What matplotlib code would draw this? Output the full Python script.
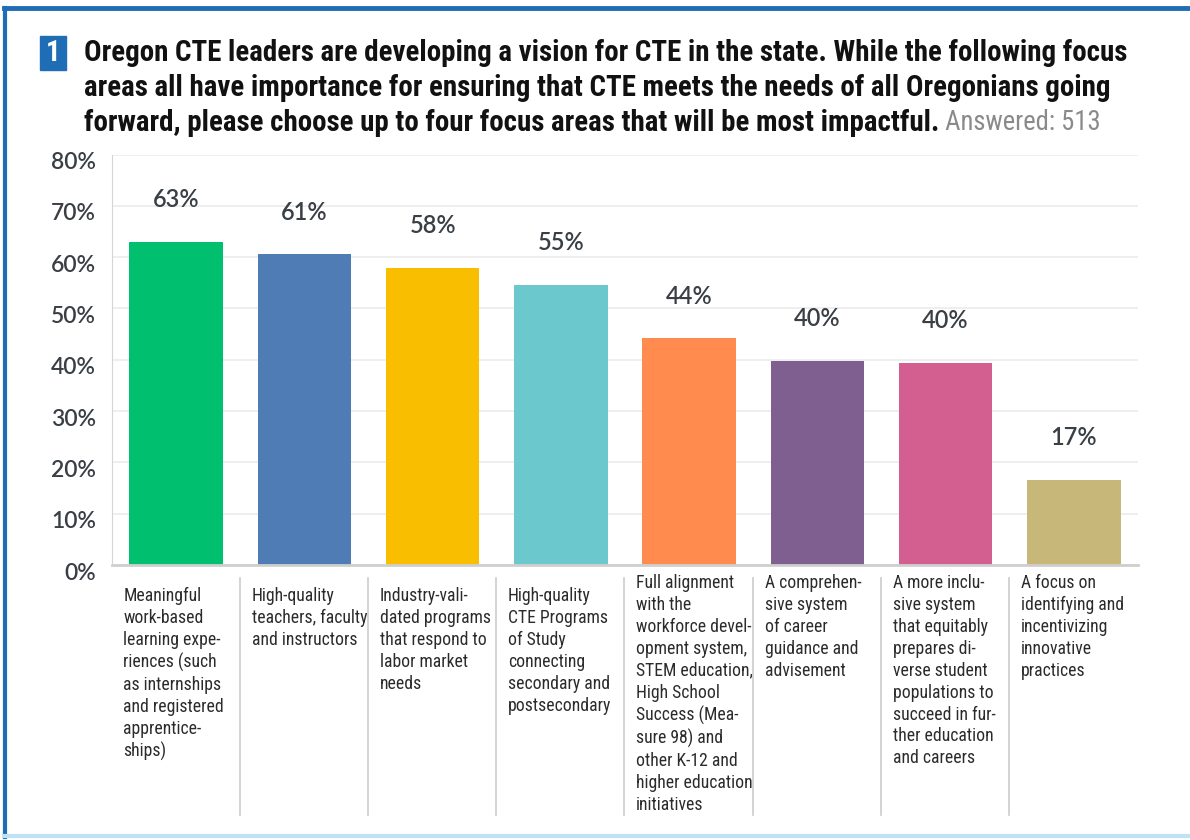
import matplotlib
matplotlib.use("Agg")
import matplotlib.pyplot as plt
from matplotlib.patches import Rectangle
from matplotlib.lines import Line2D
from matplotlib import font_manager as fm

categories = [
    "Meaningful\nwork-based\nlearning expe-\nriences (such\nas internships\nand registered\napprentice-\nships)",
    "High-quality\nteachers, faculty\nand instructors",
    "Industry-vali-\ndated programs\nthat respond to\nlabor market\nneeds",
    "High-quality\nCTE Programs\nof Study\nconnecting\nsecondary and\npostsecondary",
    "Full alignment\nwith the\nworkforce devel-\nopment system,\nSTEM education,\nHigh School\nSuccess (Mea-\nsure 98) and\nother K-12 and\nhigher education\ninitiatives",
    "A comprehen-\nsive system\nof career\nguidance and\nadvisement",
    "A more inclu-\nsive system\nthat equitably\nprepares di-\nverse student\npopulations to\nsucceed in fur-\nther education\nand careers",
    "A focus on\nidentifying and\nincentivizing\ninnovative\npractices",
]
values = [63.0, 60.6, 57.9, 54.6, 44.2, 39.8, 39.4, 16.6]
value_labels = ["63%", "61%", "58%", "55%", "44%", "40%", "40%", "17%"]
colors = ["#00BF6F", "#507CB6", "#F9BE00", "#6BC8CD", "#FF8B4F", "#7F5F90", "#D25F90", "#C7B879"]
yticks = [0, 10, 20, 30, 40, 50, 60, 70, 80]
ytick_labels = ["0%", "10%", "20%", "30%", "40%", "50%", "60%", "70%", "80%"]
title_lines = [
    "Oregon CTE leaders are developing a vision for CTE in the state. While the following focus",
    "areas all have importance for ensuring that CTE meets the needs of all Oregonians going",
    "forward, please choose up to four focus areas that will be most impactful.",
]
answered = "Answered: 513"


def find_condensed(bold):
    prefs = ["Liberation Sans Narrow", "Roboto Condensed", "DejaVu Sans Condensed",
             "Open Sans Condensed", "Noto Sans Condensed", "DejaVu Sans"]
    best = None
    for f in fm.fontManager.ttflist:
        nm = f.name
        st = str(f.stretch)
        cond = ("Narrow" in nm or "Condensed" in nm or st in ("condensed", "semi-condensed")
                or "Condensed" in f.fname or "Narrow" in f.fname)
        if not cond:
            continue
        if "Mono" in nm or "Serif" in nm or "Oblique" in f.fname or "Italic" in f.fname \
                or str(f.style) != "normal":
            continue
        try:
            w = int(f.weight)
        except Exception:
            w = {"bold": 700, "normal": 400, "regular": 400}.get(str(f.weight), 400)
        if bold and w < 600:
            continue
        if not bold and (w < 350 or w > 500):
            continue
        rank = next((i for i, p in enumerate(prefs) if nm.startswith(p)), len(prefs))
        key = (rank, abs(w - (700 if bold else 400)))
        if best is None or key < best[0]:
            best = (key, f.fname)
    if best:
        return fm.FontProperties(fname=best[1])
    return fm.FontProperties(family="Roboto", weight="bold" if bold else "normal")


FB = find_condensed(True)
FR = find_condensed(False)
names = {f.name for f in fm.fontManager.ttflist}
NUMF = "Lato" if "Lato" in names else "DejaVu Sans"

W, H = 1190, 840
fig = plt.figure(figsize=(W / 100, H / 100), dpi=100)
fig.patch.set_facecolor("white")
renderer = fig.canvas.get_renderer()


def fit_size(text, fp, target_px, start=20.0):
    t = fig.text(0, 0, text, fontproperties=fp.copy())
    t.set_fontsize(start)
    w = t.get_window_extent(renderer).width
    t.remove()
    return start * target_px / w


# frame
fig.add_artist(Line2D([4 / W, 1.0], [1 - 8 / H, 1 - 8 / H], color="#1F6DB5", lw=3.5))
fig.add_artist(Line2D([5 / W, 5 / W], [3 / H, 1 - 8 / H], color="#1F6DB5", lw=3))
fig.add_artist(Line2D([4 / W, 1.0], [4 / H, 4 / H], color="#BFE3F5", lw=3))

# axes
x0, x1 = 112, 1138
ybot, ytop = 565, 565 - 8 * 51.3
ax = fig.add_axes([x0 / W, 1 - ybot / H, (x1 - x0) / W, (ybot - ytop) / H])
n = len(values)
ax.set_xlim(-0.5, n - 0.5)
ax.set_ylim(0, 80)
ax.bar(range(n), values, width=0.73, color=colors, zorder=3)
ax.set_yticks(yticks)
ax.tick_params(axis="y", length=0, labelleft=False)
ax.tick_params(axis="x", length=0, labelbottom=False)
for v, t in zip(yticks, ytick_labels):
    ax.annotate(t, (0, v), xycoords=ax.get_yaxis_transform(), xytext=(-16, -8),
                textcoords="offset pixels", ha="right", va="center",
                fontsize=16.5, fontfamily=NUMF, fontweight="semibold",
                color="#3a3f45", annotation_clip=False)
ax.grid(axis="y", color="#ebebeb", lw=1.2, zorder=0)
for s in ["top", "right"]:
    ax.spines[s].set_visible(False)
ax.spines["left"].set_color("#d5d5d5")
ax.spines["bottom"].set_color("#cfcfcf")
ax.spines["bottom"].set_linewidth(2)
ax.spines["bottom"].set_zorder(4)

for i, (v, t) in enumerate(zip(values, value_labels)):
    ax.annotate(t, (i, v), xytext=(0, 42), textcoords="offset pixels",
                ha="center", va="center", fontsize=17, fontfamily=NUMF,
                fontweight="semibold", color="#3a3f45")

# category labels and separators
cat_size = fit_size("teachers, faculty", FR, 115)
for i, c in enumerate(categories):
    fp = FR.copy()
    fp.set_size(cat_size)
    dy = -22 if i < 4 else -9
    ax.annotate(c, (i - 0.365, 0), xytext=(-6, dy), textcoords="offset pixels",
                ha="left", va="top", fontproperties=fp,
                color="#2b2b2b", linespacing=1.28, annotation_clip=False)
    if i > 0:
        xsep = ax.transData.transform((i - 0.365, 0))[0] - 18
        fig.add_artist(Line2D([xsep / W, xsep / W], [1 - 578 / H, 1 - 815 / H],
                              color="#cccccc", lw=1.2))

# title
fig.add_artist(Rectangle((40 / W, 1 - 70 / H), 26 / W, 34 / H, color="#1F6DB5",
                         transform=fig.transFigure))
fp1 = FB.copy()
fp1.set_size(21)
fig.text(53 / W, 1 - 53 / H, "1", ha="center", va="center", color="white",
         fontproperties=fp1)
title_size = fit_size(title_lines[0], FB, 1041)
ys = [53, 88, 123]
last = None
for tl, yy in zip(title_lines, ys):
    fp = FB.copy()
    fp.set_size(title_size)
    last = fig.text(84 / W, 1 - yy / H, tl, ha="left", va="center",
                    fontproperties=fp, color="#111111")
fpa = FR.copy()
fpa.set_size(title_size * 0.92)
ax.annotate(" " + answered, xy=(1, 0.5), xycoords=last, ha="left", va="center",
            fontproperties=fpa, color="#8a8a8a")

fig.savefig("out.png", dpi=100, facecolor="white")
